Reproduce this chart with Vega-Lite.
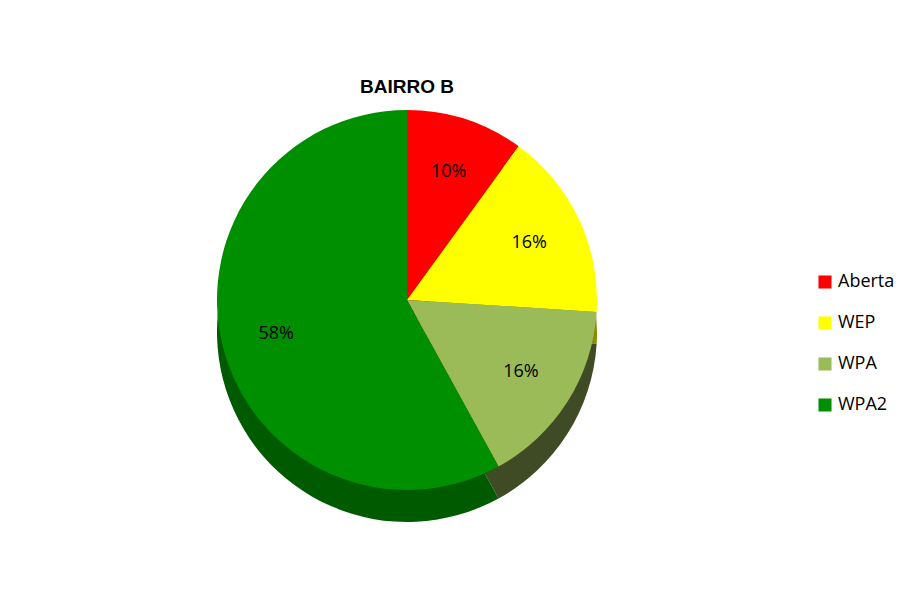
{
  "$schema": "https://vega.github.io/schema/vega-lite/v6.json",
  "width": 814,
  "height": 600,
  "autosize": {"type": "none"},
  "padding": {"left": 0, "top": 0, "right": 93, "bottom": 8},
  "background": "white",
  "title": {
    "text": "BAIRRO B",
    "font": "Liberation Sans",
    "fontSize": 19,
    "fontWeight": "bold",
    "color": "black",
    "anchor": "middle",
    "offset": -97
  },
  "data": {
    "values": [
      {"cat": "Aberta", "value": 10, "label": "10%", "ord": 1},
      {"cat": "WEP", "value": 16, "label": "16%", "ord": 2},
      {"cat": "WPA", "value": 16, "label": "16%", "ord": 3},
      {"cat": "WPA2", "value": 58, "label": "58%", "ord": 4}
    ]
  },
  "encoding": {
    "theta": {"field": "value", "type": "quantitative", "stack": true},
    "order": {"field": "ord", "type": "quantitative"}
  },
  "layer": [
    {
      "mark": {"type": "arc", "outerRadius": 190, "yOffset": 32},
      "encoding": {
        "color": {
          "field": "cat",
          "type": "nominal",
          "scale": {"domain": ["Aberta", "WEP", "WPA", "WPA2"], "range": ["#8a0000", "#8a8a00", "#3f4b24", "#005a00"]},
          "legend": null
        }
      }
    },
    {
      "mark": {"type": "arc", "outerRadius": 190},
      "encoding": {
        "color": {
          "field": "cat",
          "type": "nominal",
          "scale": {"domain": ["Aberta", "WEP", "WPA", "WPA2"], "range": ["#ff0000", "#ffff00", "#9bbb59", "#008f00"]},
          "legend": {
            "title": null,
            "orient": "none",
            "legendX": 816,
            "legendY": 273,
            "symbolType": "square",
            "symbolSize": 170,
            "symbolStrokeWidth": 0,
            "labelFont": "Open Sans",
            "labelFontSize": 18,
            "labelColor": "black",
            "rowPadding": 23,
            "labelOffset": 4
          }
        }
      }
    },
    {
      "mark": {"type": "text", "radius": 135, "font": "Open Sans", "fontSize": 18, "color": "black"},
      "encoding": {
        "text": {"field": "label", "type": "nominal"}
      }
    }
  ],
  "resolve": {"scale": {"color": "independent"}}
}
